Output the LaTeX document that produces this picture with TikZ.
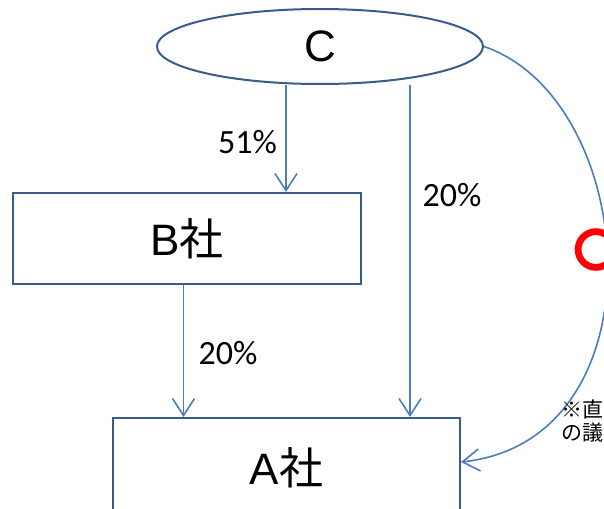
\documentclass[tikz,border=0pt]{standalone}
\usepackage{fontspec}
\setmainfont{Carlito}
\newfontfamily\jpfont{Noto Sans CJK JP}
\newfontfamily\latinfont{Liberation Sans}
\usetikzlibrary{arrows.meta,shapes.geometric}
\definecolor{linkblue}{HTML}{4A7EBB}
\definecolor{boxblue}{HTML}{385D8A}
\definecolor{markred}{HTML}{FF0000}
\newcommand{\sha}{{\jpfont 社}}

\begin{document}
\begin{tikzpicture}[x=1pt,y=-1pt,
  entity/.style={draw=boxblue,line width=2pt,fill=white,inner sep=0pt,
    font=\latinfont\fontsize{44}{44}\selectfont},
  link/.style={draw=linkblue,line width=1.6pt,
    -{Straight Barb[length=17pt,width=22pt,line width=1.6pt]}},
  pct/.style={font=\fontsize{34}{34}\selectfont,inner sep=0pt},
  note/.style={font=\jpfont\fontsize{21}{23}\selectfont,align=left,
    inner sep=0pt,anchor=west}]
\useasboundingbox (0,0) rectangle (604,508);
\clip (0,0) rectangle (604,508);

% shareholders and companies
\node[entity,ellipse,minimum width=326pt,minimum height=75pt] (C) at (320,46.5) {C};
\node[entity,rectangle,minimum width=348pt,minimum height=91pt] (B) at (187,238.5) {B\sha};
\node[entity,rectangle,minimum width=347pt,minimum height=100pt] (A) at (286.5,468) {A\sha};

% ownership links
\coordinate (cB) at (286,85);
\coordinate (cA) at (410,85);
\draw[link] (cB) -- (cB |- B.north);
\draw[link] (cA) -- (cA |- A.north);
\draw[link] ([xshift=-3.5pt]B.south) -- ([xshift=-3.5pt]B.south |- A.north);
\draw[link] (C.east) .. controls (640,100) and (665,440) .. ([yshift=6pt]A.east);

% shares
\node[pct] (p51) at (247.5,142) {51\%};
\node[pct] (p20a) at (452,195.5) {20\%};
\node[pct] (p20b) at (228,353) {20\%};

% mark and remark
\node[font=\jpfont\bfseries\fontsize{46}{46}\selectfont,text=markred,inner sep=0pt] (mark) at (596,250) {〇};
\node[note] (memo) at (561,421) {※直\\の議};
\end{tikzpicture}
\end{document}
